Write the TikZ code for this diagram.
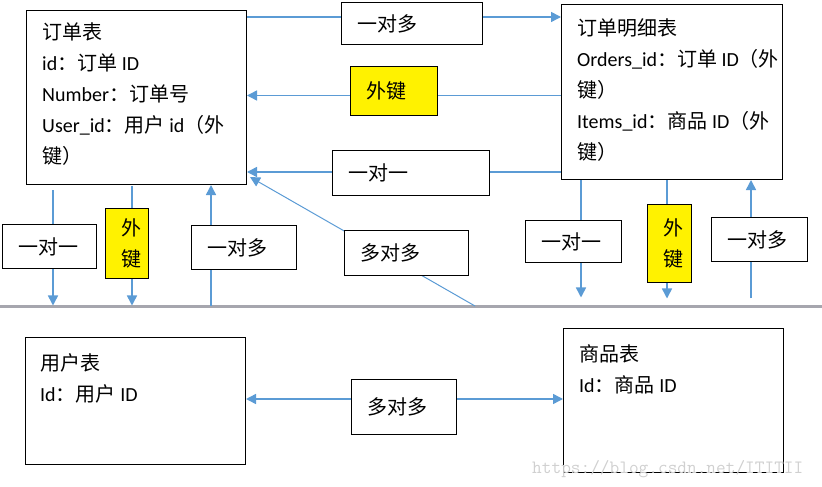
\documentclass[tikz,border=0pt]{standalone}
\usepackage{fontspec}
\setmainfont{Carlito}
\newfontfamily\cjk{Noto Sans CJK SC}
\usetikzlibrary{arrows.meta}
\definecolor{linkblue}{RGB}{91,155,213}
\definecolor{sepgray}{RGB}{166,166,174}
\definecolor{markgray}{RGB}{208,208,208}

\begin{document}
\begin{tikzpicture}[x=1bp,y=-1bp,
	tbl/.style={draw,line width=1bp,inner sep=0pt,anchor=north west},
	tbltext/.style={inner sep=0pt,anchor=north west,align=left,
		font=\fontsize{20bp}{31bp}\selectfont},
	rel/.style={draw,fill=white,line width=1bp,inner xsep=16bp,inner ysep=0pt,
		anchor=north west,align=left,font=\fontsize{20bp}{31bp}\selectfont\cjk},
	fk/.style={rel,fill=yellow},
	link/.style={linkblue,line width=1.5bp},
	tip/.style={-{Triangle[length=10bp,width=10bp]}}]
\useasboundingbox (0,0) rectangle (822,487);
% tables
\path
	(26,10) node[tbl,minimum width=220bp,minimum height=174bp] (orders) {}
	(561,4) node[tbl,minimum width=221bp,minimum height=175bp] (items) {}
	(25,337) node[tbl,minimum width=220bp,minimum height=127bp] (users) {}
	(563,328) node[tbl,minimum width=220bp,minimum height=144bp] (goods) {};
\node[tbltext] (orders-text) at ([xshift=16bp,yshift=-13bp]orders.north west)
	{{\cjk 订单表}\\id{\cjk ：订单} ID\\Number{\cjk ：订单号}\\User\_id{\cjk ：用户} id{\cjk （外}\\{\cjk 键）}};
\node[tbltext] (items-text) at ([xshift=16bp,yshift=-14bp]items.north west)
	{{\cjk 订单明细表}\\Orders\_id{\cjk ：订单} ID{\cjk （外}\\{\cjk 键）}\\Items\_id{\cjk ：商品} ID{\cjk （外}\\{\cjk 键）}};
\node[tbltext] (users-text) at ([xshift=15bp,yshift=-16bp]users.north west)
	{{\cjk 用户表}\\Id{\cjk ：用户} ID};
\node[tbltext] (goods-text) at ([xshift=16bp,yshift=-16bp]goods.north west)
	{{\cjk 商品表}\\Id{\cjk ：商品} ID};

% separator
\coordinate (sepL) at (0,306.5);
\coordinate (sepR) at (822,306.5);
\draw[sepgray,line width=3bp] (sepL) -- (sepR);

% connectors
\coordinate (c1) at ([yshift=-7bp]orders.north east);
\draw[link,tip] (c1) -- (c1 -| items.west);
\coordinate (c2) at ([yshift=2bp]orders.east);
\draw[link,tip] (c2 -| items.west) -- (c2);
\coordinate (c3) at ([yshift=13bp]orders.south east);
\draw[link,tip] (c3 -| items.west) -- (c3);
\coordinate (c4) at (475,306);
\draw[link,line width=1bp,tip] (c4) -- ([xshift=3bp,yshift=8bp]orders.south east);
\draw[link,tip,shorten <=5bp,shorten >=1bp] ([xshift=27bp]orders.south west) -- ([xshift=27bp]orders.south west |- sepL);
\draw[link,tip,shorten <=1bp,shorten >=1bp] ([xshift=106bp]orders.south west) -- ([xshift=106bp]orders.south west |- sepL);
\draw[link,tip,shorten <=1bp] ([xshift=185bp]orders.south west |- sepL) -- ([xshift=185bp]orders.south west);
\draw[link,tip,shorten >=9bp] ([xshift=20bp]items.south west) -- ([xshift=20bp]items.south west |- sepL);
\draw[link,tip,shorten >=8bp] ([xshift=106bp]items.south west) -- ([xshift=106bp]items.south west |- sepL);
\draw[link,tip,shorten <=8bp] ([xshift=190bp]items.south west |- sepL) -- ([xshift=190bp]items.south west);
\coordinate (c5) at ([yshift=2bp]users.east);
\draw[link,{Triangle[length=10bp,width=10bp]}-{Triangle[length=10bp,width=10bp]}] (c5) -- (c5 -| goods.west);

% relations
\path
	(341,2) node[rel,text width=109bp,minimum height=42bp] (r1) {一对多}
	(350,66) node[fk,text width=55bp,minimum height=49bp] (fk1) {外键}
	(332,150) node[rel,text width=125bp,minimum height=45bp] (r2) {一对一}
	(344,230) node[rel,text width=92bp,minimum height=45bp] (r3) {多对多}
	(2,224) node[rel,text width=62bp,minimum height=44bp] (r4) {一对一}
	(105,208) node[fk,text width=11bp,minimum height=70bp] (fk2) {外\\键}
	(191,225) node[rel,text width=73bp,minimum height=44bp] (r5) {一对多}
	(525,220) node[rel,text width=64bp,minimum height=42bp] (r6) {一对一}
	(647,204) node[fk,text width=12bp,minimum height=78bp] (fk3) {外\\键}
	(711,217) node[rel,text width=64bp,minimum height=44bp] (r7) {一对多}
	(351,379) node[rel,text width=73bp,minimum height=55bp] (r8) {多对多};

\node[markgray,font=\fontsize{18.8bp}{20bp}\selectfont\ttfamily,anchor=base west,inner sep=0pt] (mark) at (532,473) {https://blog.csdn.net/ITITII};
\end{tikzpicture}
\end{document}
